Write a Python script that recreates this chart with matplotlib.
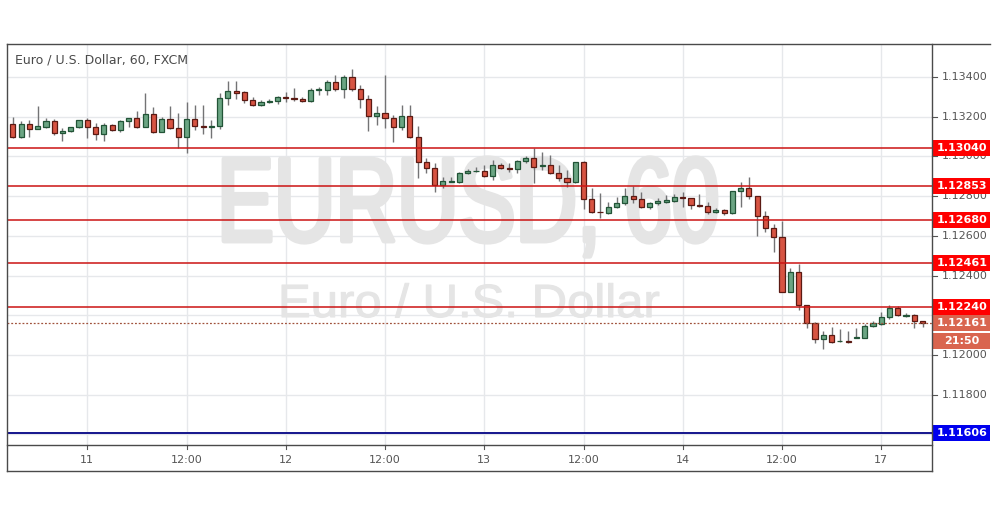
import matplotlib
matplotlib.use("Agg")
import matplotlib.pyplot as plt
import numpy as np
from matplotlib.patches import Rectangle, PathPatch
from matplotlib.lines import Line2D
from matplotlib.textpath import TextPath
from matplotlib.font_manager import FontProperties
from matplotlib.transforms import Affine2D

# hourly EUR/USD candles
opens = [1.13163, 1.13099, 1.13163, 1.13140, 1.13150, 1.13178, 1.13116, 1.13126, 1.13146, 1.13183,
         1.13146, 1.13111, 1.13158, 1.13135, 1.13177, 1.13192, 1.13146, 1.13214, 1.13125, 1.13187,
         1.13141, 1.13099, 1.13187, 1.13153, 1.13148, 1.13151, 1.13294, 1.13328, 1.13324, 1.13282,
         1.13257, 1.13272, 1.13277, 1.13299, 1.13294, 1.13291, 1.13277, 1.13333, 1.13336, 1.13375,
         1.13341, 1.13400, 1.13341, 1.13287, 1.13202, 1.13217, 1.13195, 1.13150, 1.13205, 1.13099,
         1.12970, 1.12940, 1.12856, 1.12872, 1.12869, 1.12915, 1.12926, 1.12926, 1.12903, 1.12957,
         1.12943, 1.12936, 1.12977, 1.12990, 1.12952, 1.12957, 1.12915, 1.12889, 1.12873, 1.12970,
         1.12784, 1.12721, 1.12716, 1.12743, 1.12763, 1.12800, 1.12787, 1.12747, 1.12763, 1.12772,
         1.12777, 1.12794, 1.12789, 1.12755, 1.12750, 1.12720, 1.12728, 1.12713, 1.12824, 1.12839,
         1.12800, 1.12701, 1.12642, 1.12592, 1.12315, 1.12416, 1.12254, 1.12162, 1.12083, 1.12100,
         1.12068, 1.12073, 1.12086, 1.12088, 1.12145, 1.12155, 1.12190, 1.12239, 1.12197, 1.12199,
         1.12170]
highs = [1.13200, 1.13178, 1.13183, 1.13254, 1.13192, 1.13187, 1.13141, 1.13150, 1.13183, 1.13192,
         1.13167, 1.13167, 1.13163, 1.13183, 1.13195, 1.13230, 1.13318, 1.13250, 1.13200, 1.13254,
         1.13217, 1.13276, 1.13257, 1.13257, 1.13182, 1.13319, 1.13378, 1.13378, 1.13328, 1.13299,
         1.13282, 1.13287, 1.13304, 1.13324, 1.13345, 1.13299, 1.13345, 1.13348, 1.13383, 1.13412,
         1.13412, 1.13439, 1.13358, 1.13311, 1.13254, 1.13410, 1.13209, 1.13259, 1.13259, 1.13155,
         1.12990, 1.12965, 1.12898, 1.12898, 1.12923, 1.12936, 1.12948, 1.12957, 1.12982, 1.12965,
         1.12965, 1.12982, 1.13002, 1.13041, 1.13020, 1.13007, 1.12957, 1.12931, 1.12970, 1.12975,
         1.12839, 1.12814, 1.12772, 1.12797, 1.12839, 1.12851, 1.12822, 1.12772, 1.12789, 1.12805,
         1.12810, 1.12822, 1.12789, 1.12810, 1.12772, 1.12738, 1.12733, 1.12824, 1.12873, 1.12894,
         1.12800, 1.12726, 1.12659, 1.12676, 1.12439, 1.12458, 1.12254, 1.12167, 1.12122, 1.12142,
         1.12133, 1.12122, 1.12138, 1.12155, 1.12172, 1.12217, 1.12251, 1.12246, 1.12209, 1.12206,
         1.12172]
lows = [1.13094, 1.13091, 1.13099, 1.13136, 1.13141, 1.13108, 1.13079, 1.13125, 1.13145, 1.13091,
        1.13083, 1.13079, 1.13130, 1.13125, 1.13146, 1.13141, 1.13146, 1.13120, 1.13125, 1.13136,
        1.13041, 1.13015, 1.13131, 1.13114, 1.13093, 1.13140, 1.13261, 1.13287, 1.13269, 1.13254,
        1.13254, 1.13269, 1.13266, 1.13274, 1.13277, 1.13274, 1.13274, 1.13311, 1.13311, 1.13328,
        1.13294, 1.13328, 1.13244, 1.13126, 1.13156, 1.13145, 1.13074, 1.13133, 1.13091, 1.12893,
        1.12915, 1.12822, 1.12842, 1.12869, 1.12866, 1.12910, 1.12923, 1.12898, 1.12881, 1.12936,
        1.12920, 1.12915, 1.12968, 1.12864, 1.12931, 1.12910, 1.12876, 1.12847, 1.12864, 1.12733,
        1.12716, 1.12688, 1.12710, 1.12738, 1.12755, 1.12763, 1.12738, 1.12736, 1.12755, 1.12767,
        1.12772, 1.12747, 1.12733, 1.12747, 1.12710, 1.12713, 1.12705, 1.12710, 1.12747, 1.12784,
        1.12599, 1.12621, 1.12520, 1.12315, 1.12315, 1.12226, 1.12138, 1.12061, 1.12028, 1.12061,
        1.12066, 1.12058, 1.12086, 1.12088, 1.12142, 1.12150, 1.12179, 1.12197, 1.12192, 1.12138,
        1.12142]
closes = [1.13099, 1.13163, 1.13140, 1.13153, 1.13178, 1.13116, 1.13128, 1.13146, 1.13182, 1.13146,
          1.13111, 1.13158, 1.13135, 1.13177, 1.13192, 1.13146, 1.13214, 1.13125, 1.13187, 1.13141,
          1.13099, 1.13187, 1.13151, 1.13148, 1.13151, 1.13294, 1.13328, 1.13321, 1.13282, 1.13257,
          1.13274, 1.13277, 1.13299, 1.13294, 1.13287, 1.13277, 1.13333, 1.13341, 1.13375, 1.13341,
          1.13400, 1.13341, 1.13287, 1.13202, 1.13219, 1.13195, 1.13150, 1.13205, 1.13099, 1.12970,
          1.12940, 1.12856, 1.12876, 1.12873, 1.12915, 1.12926, 1.12928, 1.12903, 1.12957, 1.12940,
          1.12936, 1.12977, 1.12990, 1.12948, 1.12957, 1.12915, 1.12889, 1.12873, 1.12970, 1.12784,
          1.12721, 1.12718, 1.12743, 1.12763, 1.12800, 1.12787, 1.12747, 1.12763, 1.12777, 1.12780,
          1.12794, 1.12789, 1.12753, 1.12750, 1.12720, 1.12728, 1.12713, 1.12824, 1.12839, 1.12800,
          1.12701, 1.12642, 1.12592, 1.12315, 1.12416, 1.12254, 1.12162, 1.12083, 1.12100, 1.12066,
          1.12073, 1.12064, 1.12091, 1.12145, 1.12159, 1.12190, 1.12239, 1.12200, 1.12202, 1.12172,
          1.12161]

time_tick_bars = [9, 21, 33, 45, 57, 69, 81, 93, 105]
time_tick_labels = ["11", "12:00", "12", "12:00", "13", "12:00", "14", "12:00", "17"]
grid_prices = [1.116, 1.118, 1.120, 1.122, 1.124, 1.126, 1.128, 1.130, 1.132, 1.134]
# 1.116 and 1.122 sit fully under the level tags, so they show no text
label_prices = [1.118, 1.120, 1.124, 1.126, 1.128, 1.130, 1.132, 1.134]

resistance_levels = [1.13040, 1.12853, 1.12680, 1.12461, 1.12240]
support_level = 1.11606
last_price = 1.12161
countdown = "21:50"

# old TradingView default candle colours
UP, DN = "#6ba583", "#d75442"
UP_EDGE, DN_EDGE = "#225437", "#5b1a13"
WICK = "#737375"
GRID = "#e6e8eb"
FRAME = "#4a4a4a"
AXTXT = "#555555"
WM = "#e5e5e5"

W, H = 995, 507
fig = plt.figure(figsize=(W / 100, H / 100), dpi=100)
fig.patch.set_facecolor("white")

L, R, T, B = 7, 932, 44, 445
ax = fig.add_axes([L / W, 1 - B / H, (R - L) / W, (B - T) / H])
ax.set_facecolor("white")
ppx = 1 / 19857.0  # price per pixel
ax.set_ylim(1.134 - 368 * ppx, 1.134 + 33 * ppx)
ax.set_xlim(-0.71, 111.14)
for s in ax.spines.values():
    s.set_visible(False)
ax.set_xticks([])
ax.set_yticks([])

# grid
for p in grid_prices:
    ax.axhline(p, color=GRID, lw=1, zorder=0)
for b in time_tick_bars:
    ax.axvline(b, color=GRID, lw=1, zorder=0)


def watermark(text, x0, x1, cap_top, baseline, stroke):
    fp = FontProperties(family="Liberation Sans")
    tp = TextPath((0, 0), text, size=1, prop=fp)
    cap = TextPath((0, 0), "E", size=1, prop=fp).get_extents().height
    ext = tp.get_extents()
    sx = (x1 - x0) / ext.width
    sy = (baseline - cap_top) / cap
    tr = (Affine2D().translate(-ext.x0, 0).scale(sx, sy)
          .translate(x0, H - baseline).scale(1 / W, 1 / H) + fig.transFigure)
    ax.add_patch(PathPatch(tp, transform=tr, fc=WM, ec=WM, lw=stroke,
                           joinstyle="round", zorder=1))


watermark("EURUSD, 60", 224, 716, 159, 241, 3.5)
watermark("Euro / U.S. Dollar", 282, 659, 285, 317, 0.8)

# candles
x = np.arange(len(opens))
o = np.array(opens)
c = np.array(closes)
up = c >= o
ax.vlines(x, lows, highs, color=WICK, lw=1, zorder=3)
body_bottom = np.minimum(o, c)
body_h = np.maximum(np.abs(c - o), 0.4 * ppx)
ax.bar(x, body_h, bottom=body_bottom, width=0.62,
       color=np.where(up, UP, DN), edgecolor=np.where(up, UP_EDGE, DN_EDGE),
       linewidth=0.9, zorder=4)

# horizontal levels
for lv in resistance_levels:
    ax.axhline(lv, color="#cc1414", lw=1.1, zorder=5)
ax.axhline(support_level, color="#14148c", lw=1.4, zorder=5)
ax.axhline(last_price, color="#a0523c", lw=0.9, ls=(0, (1.5, 1.5)), zorder=5)

yt = ax.get_yaxis_transform()
xt = ax.get_xaxis_transform()
aw = R - L
ah = B - T

# price axis labels
for p in grid_prices:
    ax.plot([1.0, 1.0 + 5 / aw], [p, p], transform=yt, color=AXTXT, lw=0.8, clip_on=False)
for p in label_prices:
    ax.text(1.0 + 10 / aw, p, f"{p:.5f}", transform=yt, ha="left", va="center",
            fontsize=8, color=AXTXT, clip_on=False, zorder=6)


def price_box(p, label, fc):
    ax.add_patch(Rectangle((1.0 + 1 / aw, p - 8 * ppx), 57 / aw, 16 * ppx, transform=yt,
                           fc=fc, ec="none", clip_on=False, zorder=10))
    ax.text(1.0 + 30 / aw, p, label, transform=yt, ha="center", va="center",
            fontsize=8, fontweight="bold", color="white", clip_on=False, zorder=11)


for lv in resistance_levels:
    price_box(lv, f"{lv:.5f}", "#ff0000")
price_box(support_level, f"{support_level:.5f}", "#0000ee")
price_box(last_price, f"{last_price:.5f}", "#d9654f")
price_box(last_price - 18 * ppx, countdown, "#d9654f")

# time axis
for b, lab in zip(time_tick_bars, time_tick_labels):
    ax.plot([b, b], [0, -4 / ah], transform=xt, color=AXTXT, lw=0.8, clip_on=False)
    ax.text(b, -15 / ah, lab, transform=xt, ha="center", va="center",
            fontsize=8, color=AXTXT, clip_on=False)

# title
fig.text(15 / W, 1 - 60 / H, "Euro / U.S. Dollar, 60, FXCM", ha="left", va="center",
         fontsize=9, color="#4a4a4a")


def fline(x0, y0, x1, y1, **kw):
    fig.add_artist(Line2D([x0 / W, x1 / W], [1 - y0 / H, 1 - y1 / H],
                          transform=fig.transFigure, color=FRAME, lw=1, **kw))


fline(L, T, 990, T)
fline(L, T, L, 471)
fline(L, 471, R, 471)
fline(L, B, R, B)
fline(R, T, R, 471)

fig.savefig("out.png", dpi=100, facecolor="white")
